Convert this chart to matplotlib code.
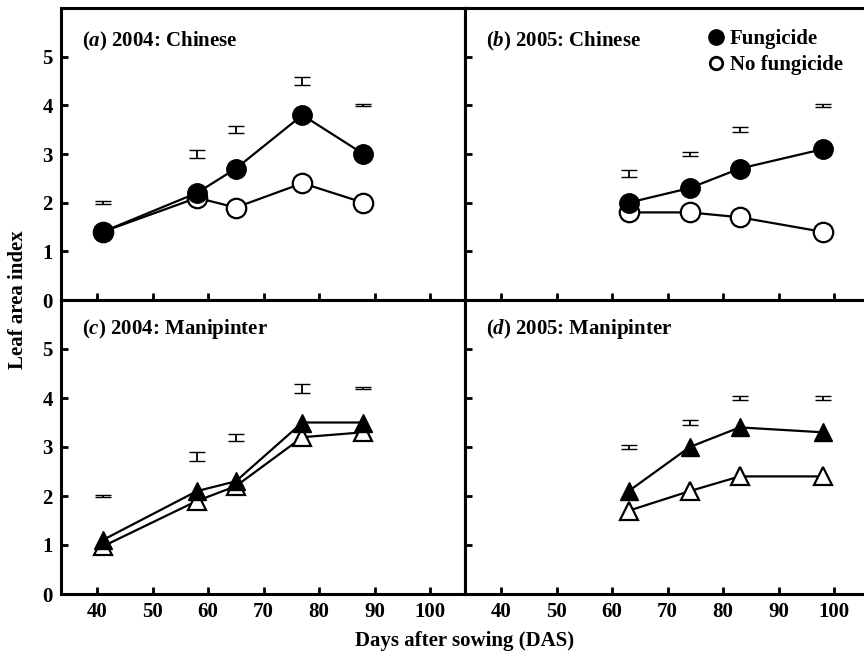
import numpy as np
import matplotlib.pyplot as plt
from matplotlib.lines import Line2D

plt.rcParams['font.family'] = 'Liberation Serif'
plt.rcParams['font.weight'] = 'bold'
plt.rcParams['mathtext.fontset'] = 'custom'
plt.rcParams['mathtext.rm'] = 'Liberation Serif:bold'
plt.rcParams['mathtext.it'] = 'Liberation Serif:bold:italic'

# days after sowing
das_2004 = [41, 58, 65, 77, 88]
das_2005 = [63, 74, 83, 98]

# (a) 2004 Chinese
a_fung = [1.4, 2.2, 2.7, 3.8, 3.0]
a_nofung = [1.4, 2.1, 1.9, 2.4, 2.0]
a_bar_y = [2.0, 3.0, 3.5, 4.5, 4.0]
a_bar_err = [0.035, 0.075, 0.077, 0.08, 0.018]

# (b) 2005 Chinese
b_fung = [2.0, 2.3, 2.7, 3.1]
b_nofung = [1.8, 1.8, 1.7, 1.4]
b_bar_y = [2.6, 3.0, 3.5, 4.0]
b_bar_err = [0.07, 0.045, 0.045, 0.03]

# (c) 2004 Manipinter
c_fung = [1.1, 2.1, 2.3, 3.5, 3.5]
c_nofung = [0.97, 1.9, 2.2, 3.2, 3.3]
c_bar_y = [2.0, 2.8, 3.2, 4.2, 4.2]
c_bar_err = [0.03, 0.09, 0.07, 0.09, 0.025]

# (d) 2005 Manipinter
d_fung = [2.1, 3.0, 3.4, 3.3]
d_nofung = [1.7, 2.1, 2.4, 2.4]
d_bar_y = [3.0, 3.5, 4.0, 4.0]
d_bar_err = [0.05, 0.05, 0.045, 0.035]

xticks = [40, 50, 60, 70, 80, 90, 100]
yticks = [0, 1, 2, 3, 4, 5]

W, H = 864, 654
fig = plt.figure(figsize=(8.64, 6.54), dpi=100)

def px_axes(x0, y0, x1, y1):
    return fig.add_axes([x0 / W, 1 - y1 / H, (x1 - x0) / W, (y1 - y0) / H])

ax_a = px_axes(61, 8, 465, 300)
ax_b = px_axes(465, 8, 869, 300)
ax_c = px_axes(61, 300, 465, 594)
ax_d = px_axes(465, 300, 869, 594)

panels = [
    (ax_a, das_2004, a_fung, a_nofung, a_bar_y, a_bar_err, 'o', r'($a$) 2004: Chinese', 0.884),
    (ax_b, das_2005, b_fung, b_nofung, b_bar_y, b_bar_err, 'o', r'($b$) 2005: Chinese', 0.884),
    (ax_c, das_2004, c_fung, c_nofung, c_bar_y, c_bar_err, '^', r'($c$) 2004: Manipinter', 0.9),
    (ax_d, das_2005, d_fung, d_nofung, d_bar_y, d_bar_err, '^', r'($d$) 2005: Manipinter', 0.9),
]

for ax, x, f, nf, by, be, mk, title, ty in panels:
    ms = 14 if mk == 'o' else 13
    ax.plot(x, nf, color='black', lw=1.6, marker=mk, ms=ms, mfc='white',
            mec='black', mew=1.6, zorder=3)
    ax.plot(x, f, color='black', lw=1.6, marker=mk, ms=ms, mfc='black',
            mec='black', zorder=4)
    ax.errorbar(x, by, yerr=be, fmt='none', ecolor='black', elinewidth=1.3,
                capsize=5.5, capthick=1.0)
    ax.set_xlim(33.5, 106.3)
    ax.set_ylim(0, 6)
    ax.set_xticks(xticks)
    ax.set_yticks(yticks)
    ax.tick_params(direction='in', length=5, width=2, labelsize=15, pad=6)
    for s in ax.spines.values():
        s.set_linewidth(2.2)
    ax.text(0.052, ty, title, transform=ax.transAxes, fontsize=15,
            fontweight='bold', va='center', ha='left')

for ax in (ax_a, ax_b):
    ax.tick_params(labelbottom=False)
for ax in (ax_b, ax_d):
    ax.tick_params(labelleft=False)

handles = [
    Line2D([], [], ls='none', marker='o', ms=11, mfc='black', mec='black'),
    Line2D([], [], ls='none', marker='o', ms=9, mfc='white', mec='black', mew=2),
]
ax_b.legend(handles, ['Fungicide', 'No fungicide'], loc='upper left',
            bbox_to_anchor=(0.555, 0.985), frameon=False, fontsize=15,
            handletextpad=0.15, handlelength=1.0, labelspacing=0.3,
            borderaxespad=0.4)

fig.text(18 / W, 1 - 300 / H, 'Leaf area index', rotation=90, ha='center',
         va='center', fontsize=15, fontweight='bold')
fig.text(465 / W, 1 - 641 / H, 'Days after sowing (DAS)', ha='center',
         va='center', fontsize=15, fontweight='bold')

fig.savefig('out.png', dpi=100)
